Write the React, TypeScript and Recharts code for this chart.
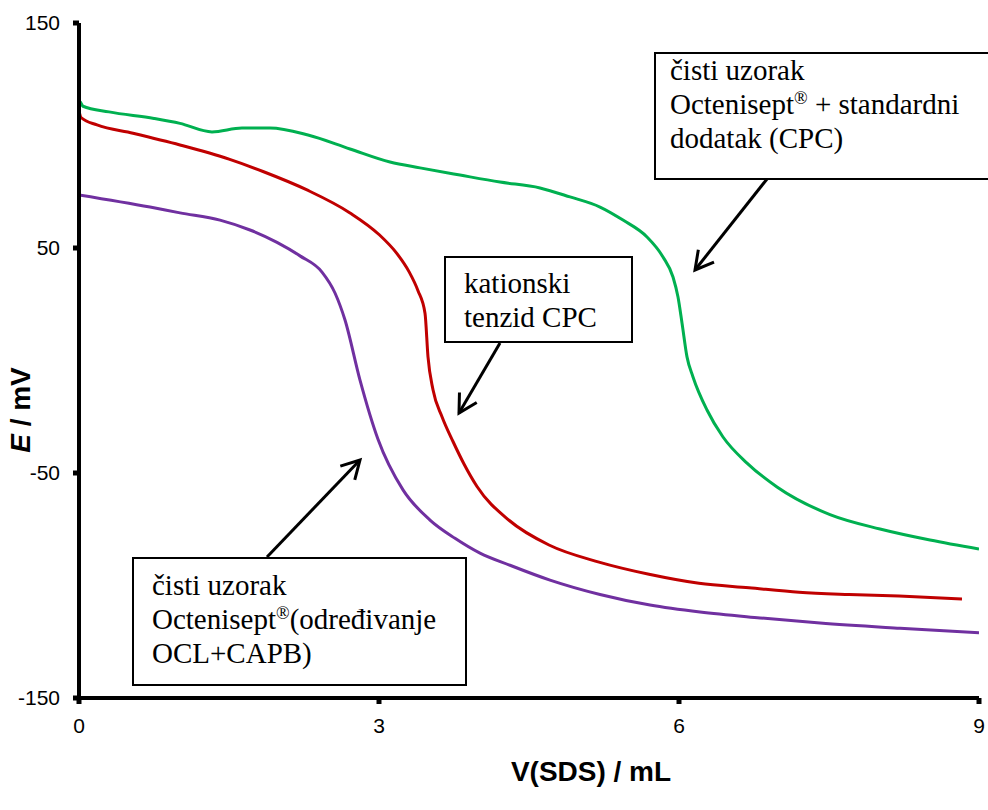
import React from "react";
import { LineChart, Line, XAxis, YAxis } from "recharts";

// E (mV) vs V(SDS) (mL)
const greenV = [0, 0.01, 0.04, 0.3, 0.75, 1.01, 1.33, 1.63, 1.91, 2.29, 2.71, 3.11, 3.41, 3.81, 4.21, 4.61, 4.91, 5.21, 5.44, 5.68, 5.84, 5.94, 5.99, 6.03, 6.08, 6.14, 6.28, 6.44, 6.68, 6.98, 7.51, 8.01, 8.51, 9];
const greenE = [108, 115, 113, 110.5, 107.6, 105.4, 101.6, 103.3, 103.3, 100.2, 94, 88.2, 85.6, 82.4, 79.3, 76.7, 72.7, 68.2, 62.4, 54.9, 46, 37.1, 28.2, 16.7, 1.6, -7.3, -22, -34, -45.6, -56.2, -68.5, -74.9, -79.8, -83.8];

const redV = [0, 0.02, 0.18, 0.54, 1.01, 1.5, 1.84, 2.28, 2.71, 3.0, 3.18, 3.3, 3.39, 3.46, 3.49, 3.54, 3.63, 3.74, 3.85, 3.98, 4.3, 4.7, 5.2, 5.7, 6.2, 6.7, 7.2, 7.7, 8.2, 8.83];
const redE = [111, 108, 104.7, 101, 95.8, 89.5, 84, 75.8, 65.6, 56, 47.5, 39.5, 31, 21, 1.6, -13, -25, -36, -46, -56, -71, -82, -89.6, -95, -99, -101, -103, -104, -104.7, -106];

const purpleV = [0, 0.71, 1.01, 1.41, 1.71, 1.98, 2.21, 2.43, 2.56, 2.66, 2.81, 2.99, 3.24, 3.51, 3.76, 4.01, 4.31, 4.71, 5.21, 5.71, 6.21, 6.81, 7.41, 8.21, 9];
const purpleE = [73.6, 68.2, 65.6, 62.4, 58, 52.5, 46.5, 39.3, 30, 18, -8.7, -35, -57.5, -70.9, -79, -85.6, -91, -97.6, -104, -108.7, -111.8, -114.4, -116.7, -119, -121];

const xTicks = [0, 3, 6, 9];
const yTicks = [150, 50, -50, -150];

const zip = (v: number[], e: number[]) => v.map((x, i) => ({ v: x, e: e[i] }));
const green = zip(greenV, greenE);
const red = zip(redV, redE);
const purple = zip(purpleV, purpleE);

const serif = '"Times New Roman", "Liberation Serif", serif';
const sans = 'Arial, "Liberation Sans", sans-serif';

function arrow(x1: number, y1: number, x2: number, y2: number) {
  const dx = x2 - x1;
  const dy = y2 - y1;
  const len = Math.hypot(dx, dy);
  const ux = dx / len;
  const uy = dy / len;
  const L = 18;
  const W = 10;
  const bx = x2 - ux * L;
  const by = y2 - uy * L;
  const head = `${bx - uy * W},${by + ux * W} ${x2},${y2} ${bx + uy * W},${by - ux * W}`;
  return (
    <g>
      <line x1={x1} y1={y1} x2={x2} y2={y2} stroke="#000" strokeWidth={3} />
      <polyline points={head} fill="none" stroke="#000" strokeWidth={3} />
    </g>
  );
}

const boxStyle = (left: number, top: number, width: number, height: number): React.CSSProperties => ({
  position: "absolute",
  left,
  top,
  width,
  height,
  border: "2.5px solid #000",
  background: "#fff",
  boxSizing: "border-box",
});

const textStyle = (left: number, top: number): React.CSSProperties => ({
  position: "absolute",
  left,
  top,
  fontFamily: serif,
  fontSize: 29,
  lineHeight: "34px",
  whiteSpace: "nowrap",
  color: "#000",
});

const reg = <sup style={{ fontSize: "0.62em", lineHeight: 0, verticalAlign: "0.55em" }}>®</sup>;

export default function App() {
  return (
    <div style={{ position: "absolute", left: 0, top: 0, width: 988, height: 810, background: "#fff" }}>
      <LineChart width={988} height={810} margin={{ top: 23, right: 9, bottom: 111, left: 78 }}>
        <XAxis
          dataKey="v"
          type="number"
          domain={[0, 9]}
          ticks={xTicks}
          height={1}
          axisLine={{ stroke: "#000", strokeWidth: 4 }}
          tickLine={{ stroke: "#000", strokeWidth: 5 }}
          tickSize={6}
          tickMargin={14}
          tick={{ fill: "#000", fontSize: 21, fontFamily: sans }}
          interval={0}
          allowDataOverflow
        />
        <YAxis
          type="number"
          domain={[-150, 150]}
          ticks={yTicks}
          width={1}
          axisLine={{ stroke: "#000", strokeWidth: 4 }}
          tickLine={{ stroke: "#000", strokeWidth: 5 }}
          tickSize={6}
          tickMargin={13}
          tick={{ fill: "#000", fontSize: 21, fontFamily: sans }}
          interval={0}
          allowDataOverflow
        />
        <Line data={purple} dataKey="e" type="monotoneX" stroke="#7030A0" strokeWidth={3} dot={false} isAnimationActive={false} />
        <Line data={red} dataKey="e" type="monotoneX" stroke="#C00000" strokeWidth={3} dot={false} isAnimationActive={false} />
        <Line data={green} dataKey="e" type="monotoneX" stroke="#00B050" strokeWidth={3} dot={false} isAnimationActive={false} />
      </LineChart>

      <svg width={988} height={810} style={{ position: "absolute", left: 0, top: 0, pointerEvents: "none" }}>
        {arrow(767, 179, 695, 270)}
        {arrow(500, 343, 459, 413)}
        {arrow(267, 557, 360, 460)}
        <text
          transform="translate(30 410) rotate(-90)"
          textAnchor="middle"
          fontFamily={sans}
          fontSize={28}
          fontWeight="bold"
          fill="#000"
        >
          <tspan fontStyle="italic">E</tspan> / mV
        </text>
        <text x={591} y={781} textAnchor="middle" fontFamily={sans} fontSize={28} fontWeight="bold" fill="#000">
          V(SDS) / mL
        </text>
      </svg>

      <div style={boxStyle(654, 52, 340, 128)} />
      <div style={textStyle(670, 53)}>
        čisti uzorak
        <br />
        Octenisept{reg} + standardni
        <br />
        dodatak (CPC)
      </div>

      <div style={boxStyle(444, 256, 189, 87)} />
      <div style={textStyle(464, 266)}>
        kationski
        <br />
        tenzid CPC
      </div>

      <div style={boxStyle(132, 557, 335, 129)} />
      <div style={textStyle(152, 568)}>
        čisti uzorak
        <br />
        Octenisept{reg}(određivanje
        <br />
        OCL+CAPB)
      </div>
    </div>
  );
}
